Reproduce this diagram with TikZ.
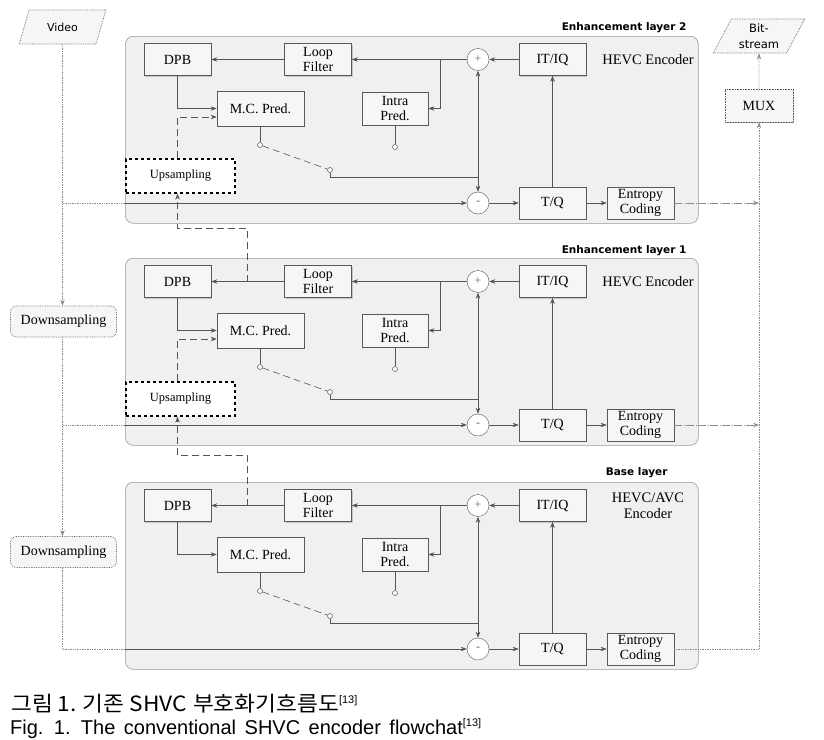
\documentclass[tikz,border=0pt]{standalone}
\usepackage{fontspec}
\setmainfont{Liberation Serif}
\newfontfamily\dejavu{DejaVu Sans}
\newfontfamily\cjkfont[FakeStretch=1.08]{Noto Sans CJK KR}
\newfontfamily\arialf{Liberation Sans}
\usetikzlibrary{arrows.meta,shapes.geometric,shadows,calc}
\definecolor{linec}{HTML}{555555}
\definecolor{boxfill}{HTML}{F6F6F6}
\definecolor{layerfill}{HTML}{F0F0F0}
\tikzset{
  layerbox/.style={draw=gray!80, fill=layerfill, rounded corners=8pt, line width=0.6pt, inner sep=0pt},
  blk/.style={draw=gray!70!black, fill=boxfill, line width=0.6pt, minimum width=67pt, minimum height=32pt,
    inner sep=1pt, align=center, font=\fontsize{14}{15}\selectfont,
    drop shadow={shadow xshift=1.2pt, shadow yshift=-1.2pt, fill=gray!45, opacity=1}},
  sumc/.style={circle, draw=linec, fill=white, minimum size=22pt, inner sep=0pt, font=\fontsize{12}{12}\selectfont, text=gray!80!black},
  swc/.style={circle, draw=linec, fill=white, minimum size=5pt, inner sep=0pt, line width=0.5pt},
  tip/.tip={Stealth[length=6pt,width=4.5pt]},
  arr/.style={draw=linec, line width=0.6pt, -tip},
  ln/.style={draw=linec, line width=0.6pt},
  longdash/.style={dash pattern=on 7pt off 4pt},
  upbox/.style={draw=black, dashed, line width=1.2pt, fill=white, minimum width=109pt, minimum height=34pt,
    font=\fontsize{12.5}{14}\selectfont},
  dotln/.style={draw=gray!90, densely dotted, line width=0.7pt},
  dashdot/.style={draw=gray!90, line width=0.7pt, dash pattern=on 8pt off 1.5pt on 1pt off 1.5pt},
  dsbox/.style={draw=gray!80!black, densely dotted, line width=0.7pt, rounded corners=6pt, fill=boxfill,
    minimum width=106pt, minimum height=31pt, font=\fontsize{14}{15}\selectfont},
  para/.style={trapezium, trapezium left angle=62, trapezium right angle=118, trapezium stretches=true,
    draw=gray!80!black, densely dotted, line width=0.7pt, fill=boxfill, align=center, inner sep=0pt},
  labl/.style={font=\dejavu\bfseries\fontsize{10.5}{12}\selectfont},
}
\newcommand\shvclayer[3]{%
  \begin{scope}[shift={(0,#2)}]
    \node[layerbox, anchor=north west, minimum width=573pt, minimum height=187pt] (L#1) at (125,36) {};
    \node[blk] (dpb#1) at (177.5,59.5) {DPB};
    \node[blk] (lf#1) at (318,59.5) {Loop\\Filter};
    \node[blk] (itiq#1) at (552.5,59.5) {IT/IQ};
    \node[sumc] (plus#1) at (478,59.5) {+};
    \node[blk, minimum width=87pt, minimum height=35pt] (mc#1) at (260.5,108.5) {M.C. Pred.};
    \node[blk, minimum width=66pt, minimum height=33pt] (intra#1) at (395,108.5) {Intra\\Pred.};
    \node[sumc] (minus#1) at (478,203) {-};
    \node[blk] (tq#1) at (552.5,203) {T/Q};
    \node[blk] (ec#1) at (640.5,203) {Entropy\\Coding};
    \node[align=center, font=\fontsize{14.5}{16}\selectfont] (enc#1) at (648,59.5) {#3};
    \node[swc] (sa#1) at (260,145) {};
    \node[swc] (sb#1) at (330,170) {};
    \node[swc] (sc#1) at (395,147) {};
    \coordinate (sj#1) at (478,177);
    \coordinate (br#1) at (440,59.5);
    \coordinate (tap#1) at ($(dpb#1.east)!0.5!(lf#1.west)$);
    \draw[ln] (sa#1 |- mc#1.south) -- (sa#1.north);
    \draw[ln, longdash] (sa#1) -- (sb#1);
    \draw[ln] (sb#1.south) |- (sj#1);
    \draw[ln] (sc#1 |- intra#1.south) -- (sc#1.north);
    \draw[ln, tip-tip] (plus#1.south) -- (minus#1.north);
    \draw[arr] (plus#1.west) -- (lf#1.east);
    \draw[arr] (br#1) |- (intra#1.east);
    \draw[arr] (itiq#1.west) -- (plus#1.east);
    \draw[arr] (lf#1.west) -- (dpb#1.east);
    \draw[arr] (tq#1.north) -- (itiq#1.south);
    \draw[arr] (minus#1.east) -- (tq#1.west);
    \draw[arr] (tq#1.east) -- (ec#1.west);
    \draw[arr] (dpb#1.south) |- (mc#1.west);
  \end{scope}}
\begin{document}
\begin{tikzpicture}[x=1pt,y=-1pt]
\useasboundingbox (0,0) rectangle (824,739);
\fill[white] (0,0) rectangle (824,739);
\shvclayer{2}{0}{HEVC Encoder}
\shvclayer{1}{222}{HEVC Encoder}
\shvclayer{0}{446}{HEVC/AVC\\Encoder}
% layer labels
\node[labl, anchor=base east] (lab2) at (690,30.5) {Enhancement layer 2};
\node[labl, anchor=base east] (lab1) at (690,253) {Enhancement layer 1};
\node[labl, anchor=base east] (lab0) at (671,475) {Base layer};
% upsampling
\node[upbox] (up2) at (180.5,176) {Upsampling};
\node[upbox] (up1) at (180.5,399) {Upsampling};
\coordinate (ua2) at ($(mc2.west)+(0,8.5)$);
\coordinate (ua1) at ($(mc1.west)+(0,8.5)$);
\draw[ln, longdash, -tip] (dpb2.south |- up2.north) |- (ua2);
\draw[ln, longdash, -tip] (dpb1.south |- up1.north) |- (ua1);
\draw[ln, longdash, -tip] (tap1) -- ++(0,-53.5) -| (dpb2.south |- up2.south);
\draw[ln, longdash, -tip] (tap0) -- ++(0,-50.5) -| (dpb1.south |- up1.south);
% input side
\node[para, minimum width=87pt, minimum height=34pt, font=\dejavu\fontsize{11}{12}\selectfont] (video) at (62.5,27) {Video};
\node[dsbox] (ds1) at (63.5,321.5) {Downsampling};
\node[dsbox] (ds0) at (63.5,552) {Downsampling};
\coordinate (in2) at (63,203);
\coordinate (in1) at (63,425);
\draw[dotln, -tip] (video.south) -- (video.south |- ds1.north);
\draw[dotln, -tip] (video.south |- ds1.south) -- (video.south |- ds0.north);
\draw[dotln] (in2) -- (in2 -| L2.west);
\draw[arr] (in2 -| L2.west) -- (minus2.west);
\draw[dotln] (in1) -- (in1 -| L1.west);
\draw[arr] (in1 -| L1.west) -- (minus1.west);
\draw[dotln] (video.south |- ds0.south) |- (L0.west |- minus0);
\draw[arr] (L0.west |- minus0) -- (minus0.west);
% output side
\node[blk, minimum width=68pt, minimum height=33pt, draw=gray!70!black, densely dotted] (mux) at (759,105.5) {MUX};
\node[para, minimum width=92pt, minimum height=34pt, font=\dejavu\fontsize{11.5}{16}\selectfont] (bs) at (759,36) {Bit-\\stream};
\draw[dotln, -tip] (ec0.east) -| (mux.south);
\draw[dashdot, -tip] (ec2.east) -- (ec2.east -| mux.south);
\draw[dashdot, -tip] (ec1.east) -- (ec1.east -| mux.south);
\draw[dotln, -tip] (mux.north) -- (bs.south);
% captions
\node[anchor=base west, inner sep=0pt, font=\cjkfont\fontsize{21}{21}\selectfont] (cap1) at (11,711)
  {그림 1.\hspace{6pt}기존 SHVC\hspace{6pt}부호화기흐름도\raisebox{8pt}{\arialf\fontsize{11}{11}\selectfont[13]}};
\node[anchor=base west, inner sep=0pt, font=\arialf\fontsize{20}{20}\selectfont] (cap2) at (10,734)
  {\spaceskip=8.5pt Fig. 1. The conventional SHVC encoder flowchat\raisebox{8pt}{\fontsize{11}{11}\selectfont[13]}};
\end{tikzpicture}
\end{document}
